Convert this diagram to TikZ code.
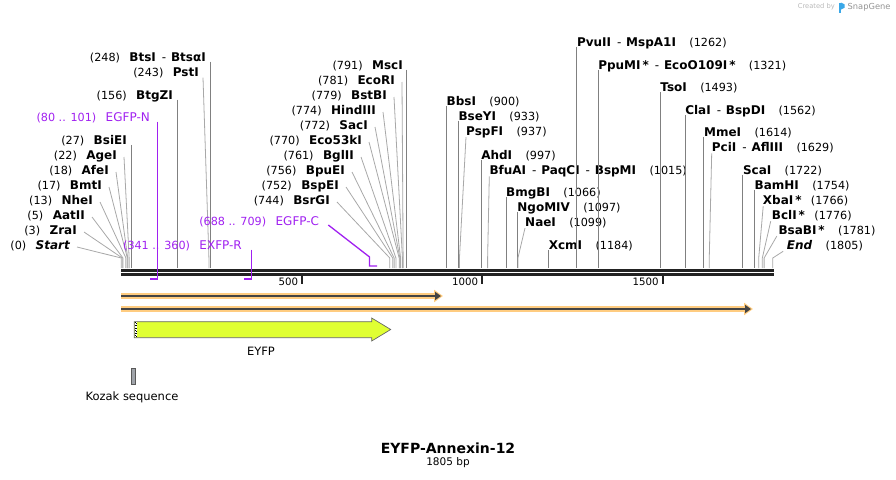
\documentclass[tikz,border=0pt]{standalone}
\usepackage{fontspec}
\setmainfont{DejaVu Sans}
\usepackage{xcolor}
\usetikzlibrary{arrows.meta}
\usetikzlibrary{positioning}
\definecolor{cutgray}{HTML}{808080}
\definecolor{cutlight}{HTML}{A8A8A8}
\definecolor{primer}{HTML}{A020F0}
\definecolor{rulergray}{HTML}{222222}
\definecolor{orfhalo}{HTML}{FFCC80}
\definecolor{orfdark}{HTML}{444444}
\definecolor{eyfpfill}{HTML}{E0FF33}
\definecolor{kozakfill}{HTML}{A0A4AA}
\definecolor{snapblue}{HTML}{3AA8E8}
\newcommand{\enzsep}{\hspace{0.5em}\textmd{-}\hspace{0.4em}}

\begin{document}
\begin{tikzpicture}[x=1pt,y=-1pt,node distance=9pt]
	\tikzset{
		EN/.style={inner sep=0pt,text depth=0pt,font=\fontsize{12}{14}\selectfont\bfseries},
		NU/.style={inner sep=0pt,font=\fontsize{11.2}{13}\selectfont},
		CV/.style={draw=cutgray,line width=0.8pt},
		CD/.style={draw=cutlight,line width=0.8pt},
		PL/.style={draw=primer,line width=1.3pt},
		PT/.style={inner sep=0pt,text depth=0pt,text=primer,font=\fontsize{12}{14}\selectfont},
		PN/.style={inner sep=0pt,text=primer,font=\fontsize{11.2}{13}\selectfont},
		RL/.style={draw=rulergray,line width=2.4pt},
		TK/.style={draw=rulergray,line width=2pt},
		TL/.style={inner sep=0pt,anchor=east,font=\fontsize{10.2}{12}\selectfont},
		OH/.style={draw=orfhalo,line width=6pt,-{Triangle[length=9pt,width=12pt]}},
		OD/.style={draw=orfdark,line width=2pt,-{Triangle[length=6pt,width=8pt]}},
		FT/.style={inner sep=0pt,font=\fontsize{11.5}{13}\selectfont},
	}
	
	\useasboundingbox (0,0) rectangle (896,479);
	
	% ruler
	\coordinate (r-s) at (121,270.5);
	\coordinate (r-e) at (774,270.5);
	\draw[RL] (r-s) -- (r-e);
	\draw[RL] ([yshift=-4pt]r-s) -- ([yshift=-4pt]r-e);
	\draw[TK] (301.7,276) -- (301.7,283.5); \node[TL] (t500) at (298.2,282) {500};
	\draw[TK] (482.2,276) -- (482.2,283.5); \node[TL] (t1000) at (478.2,282) {1000};
	\draw[TK] (662.7,276) -- (662.7,283.5); \node[TL] (t1500) at (658.7,282) {1500};
	
	% sites, left of the line
	\node[EN,anchor=east] (start) at (70,245) {\itshape Start}; \node[NU,base left=of start] (start-n) {(0)};
	\node[EN,anchor=east] (zrai) at (77,230) {ZraI}; \node[NU,base left=of zrai] (zrai-n) {(3)};
	\node[EN,anchor=east] (aatii) at (85,215) {AatII}; \node[NU,base left=of aatii] (aatii-n) {(5)};
	\node[EN,anchor=east] (nhei) at (93,200) {NheI}; \node[NU,base left=of nhei] (nhei-n) {(13)};
	\node[EN,anchor=east] (bmti) at (102,185) {BmtI}; \node[NU,base left=of bmti] (bmti-n) {(17)};
	\node[EN,anchor=east] (afei) at (109,170) {AfeI}; \node[NU,base left=of afei] (afei-n) {(18)};
	\node[EN,anchor=east] (agei) at (117,155) {AgeI}; \node[NU,base left=of agei] (agei-n) {(22)};
	\node[EN,anchor=east] (bsiei) at (127,140) {BsiEI}; \node[NU,base left=of bsiei] (bsiei-n) {(27)};
	\node[EN,anchor=east] (btgzi) at (173,95) {BtgZI}; \node[NU,base left=of btgzi] (btgzi-n) {(156)};
	\node[EN,anchor=east] (psti) at (199,72) {PstI}; \node[NU,base left=of psti] (psti-n) {(243)};
	\node[EN,anchor=east] (btsi) at (206,57) {BtsI\enzsep BtsαI}; \node[NU,base left=of btsi] (btsi-n) {(248)};
	
	\node[EN,anchor=east] (bsrgi) at (330,200) {BsrGI}; \node[NU,base left=of bsrgi] (bsrgi-n) {(744)};
	\node[EN,anchor=east] (bspei) at (339,185) {BspEI}; \node[NU,base left=of bspei] (bspei-n) {(752)};
	\node[EN,anchor=east] (bpuei) at (345,170) {BpuEI}; \node[NU,base left=of bpuei] (bpuei-n) {(756)};
	\node[EN,anchor=east] (bglii) at (354,155) {BglII}; \node[NU,base left=of bglii] (bglii-n) {(761)};
	\node[EN,anchor=east] (eco53ki) at (362,140) {Eco53kI}; \node[NU,base left=of eco53ki] (eco53ki-n) {(770)};
	\node[EN,anchor=east] (saci) at (368,125) {SacI}; \node[NU,base left=of saci] (saci-n) {(772)};
	\node[EN,anchor=east] (hindiii) at (376,110) {HindIII}; \node[NU,base left=of hindiii] (hindiii-n) {(774)};
	\node[EN,anchor=east] (bstbi) at (387,95) {BstBI}; \node[NU,base left=of bstbi] (bstbi-n) {(779)};
	\node[EN,anchor=east] (ecori) at (395,80) {EcoRI}; \node[NU,base left=of ecori] (ecori-n) {(781)};
	\node[EN,anchor=east] (msci) at (403,65) {MscI}; \node[NU,base left=of msci] (msci-n) {(791)};
	
	\coordinate (start-c) at ({121.2+0.361*0},268);
	\coordinate (zrai-c) at ({121.2+0.361*3},268);
	\coordinate (aatii-c) at ({121.2+0.361*5},268);
	\coordinate (nhei-c) at ({121.2+0.361*13},268);
	\coordinate (bmti-c) at ({121.2+0.361*17},268);
	\coordinate (afei-c) at ({121.2+0.361*18},268);
	\coordinate (agei-c) at ({121.2+0.361*22},268);
	\coordinate (bsiei-c) at ({121.2+0.361*27},268);
	\coordinate (btgzi-c) at ({121.2+0.361*156},268);
	\coordinate (psti-c) at ({121.2+0.361*243},268);
	\coordinate (btsi-c) at ({121.2+0.361*248},268);
	\coordinate (bsrgi-c) at ({121.2+0.361*744},268);
	\coordinate (bspei-c) at ({121.2+0.361*752},268);
	\coordinate (bpuei-c) at ({121.2+0.361*756},268);
	\coordinate (bglii-c) at ({121.2+0.361*761},268);
	\coordinate (eco53ki-c) at ({121.2+0.361*770},268);
	\coordinate (saci-c) at ({121.2+0.361*772},268);
	\coordinate (hindiii-c) at ({121.2+0.361*774},268);
	\coordinate (bstbi-c) at ({121.2+0.361*779},268);
	\coordinate (ecori-c) at ({121.2+0.361*781},268);
	\coordinate (msci-c) at ({121.2+0.361*791},268);
	
	\draw[CD] ([xshift=7pt,yshift=-2pt]start.east) -- ([yshift=10pt]start-c) -- (start-c);
	\draw[CD] ([xshift=7pt,yshift=-2pt]zrai.east) -- ([yshift=10pt]zrai-c) -- (zrai-c);
	\draw[CD] ([xshift=7pt,yshift=-2pt]aatii.east) -- ([yshift=10pt]aatii-c) -- (aatii-c);
	\draw[CD] ([xshift=7pt,yshift=-2pt]nhei.east) -- ([yshift=10pt]nhei-c) -- (nhei-c);
	\draw[CD] ([xshift=7pt,yshift=-2pt]bmti.east) -- ([yshift=10pt]bmti-c) -- (bmti-c);
	\draw[CD] ([xshift=7pt,yshift=-2pt]afei.east) -- ([yshift=10pt]afei-c) -- (afei-c);
	\draw[CD] ([xshift=7pt,yshift=-2pt]agei.east) -- ([yshift=10pt]agei-c) -- (agei-c);
	\draw[CV] (bsiei.south -| bsiei-c) -- (bsiei-c);
	\draw[CV] (btgzi.south -| btgzi-c) -- (btgzi-c);
	\draw[CD] ([xshift=4pt,yshift=-1pt]psti.south east) -- ([yshift=10pt]psti-c) -- (psti-c);
	\draw[CV] (btsi.south -| btsi-c) -- (btsi-c);
	\draw[CD] ([xshift=7pt,yshift=-2pt]bsrgi.east) -- ([yshift=10pt]bsrgi-c) -- (bsrgi-c);
	\draw[CD] ([xshift=7pt,yshift=-2pt]bspei.east) -- ([yshift=10pt]bspei-c) -- (bspei-c);
	\draw[CD] ([xshift=7pt,yshift=-2pt]bpuei.east) -- ([yshift=10pt]bpuei-c) -- (bpuei-c);
	\draw[CD] ([xshift=7pt,yshift=-2pt]bglii.east) -- ([yshift=10pt]bglii-c) -- (bglii-c);
	\draw[CD] ([xshift=7pt,yshift=-2pt]eco53ki.east) -- ([yshift=10pt]eco53ki-c) -- (eco53ki-c);
	\draw[CD] ([xshift=7pt,yshift=-2pt]saci.east) -- ([yshift=10pt]saci-c) -- (saci-c);
	\draw[CD] ([xshift=7pt,yshift=-2pt]hindiii.east) -- ([yshift=10pt]hindiii-c) -- (hindiii-c);
	\draw[CD] ([xshift=7pt,yshift=-2pt]bstbi.east) -- ([yshift=10pt]bstbi-c) -- (bstbi-c);
	\draw[CD] ([xshift=7pt,yshift=-2pt]ecori.east) -- ([yshift=10pt]ecori-c) -- (ecori-c);
	\draw[CV] (msci.south -| msci-c) -- (msci-c);
	
	% sites, right of the line
	\node[EN,anchor=west] (bbsi) at (446.5,101) {BbsI}; \node[NU,base right=13pt of bbsi] (bbsi-n) {(900)};
	\node[EN,anchor=west] (bseyi) at (458.3,116) {BseYI}; \node[NU,base right=13pt of bseyi] (bseyi-n) {(933)};
	\node[EN,anchor=west] (pspfi) at (466,131) {PspFI}; \node[NU,base right=13pt of pspfi] (pspfi-n) {(937)};
	\node[EN,anchor=west] (ahdi) at (481.1,155) {AhdI}; \node[NU,base right=13pt of ahdi] (ahdi-n) {(997)};
	\node[EN,anchor=west] (bfuai) at (489.3,170) {BfuAI\enzsep PaqCI\enzsep BspMI}; \node[NU,base right=13pt of bfuai] (bfuai-n) {(1015)};
	\node[EN,anchor=west] (bmgbi) at (506.0,192) {BmgBI}; \node[NU,base right=13pt of bmgbi] (bmgbi-n) {(1066)};
	\node[EN,anchor=west] (ngomiv) at (517.2,207) {NgoMIV}; \node[NU,base right=13pt of ngomiv] (ngomiv-n) {(1097)};
	\node[EN,anchor=west] (naei) at (525,222) {NaeI}; \node[NU,base right=13pt of naei] (naei-n) {(1099)};
	\node[EN,anchor=west] (xcmi) at (548.6,245) {XcmI}; \node[NU,base right=13pt of xcmi] (xcmi-n) {(1184)};
	\node[EN,anchor=west] (pvuii) at (576.8,42) {PvuII\enzsep MspA1I}; \node[NU,base right=13pt of pvuii] (pvuii-n) {(1262)};
	\node[EN,anchor=west] (ppumi) at (598.1,65) {PpuMI\,*\enzsep EcoO109I\,*}; \node[NU,base right=13pt of ppumi] (ppumi-n) {(1321)};
	\node[EN,anchor=west] (tsoi) at (660.2,87) {TsoI}; \node[NU,base right=13pt of tsoi] (tsoi-n) {(1493)};
	\node[EN,anchor=west] (clai) at (685.1,110) {ClaI\enzsep BspDI}; \node[NU,base right=13pt of clai] (clai-n) {(1562)};
	\node[EN,anchor=west] (mmei) at (703.9,132) {MmeI}; \node[NU,base right=13pt of mmei] (mmei-n) {(1614)};
	\node[EN,anchor=west] (pcii) at (711.7,147) {PciI\enzsep AflIII}; \node[NU,base right=13pt of pcii] (pcii-n) {(1629)};
	\node[EN,anchor=west] (scai) at (742.8,170) {ScaI}; \node[NU,base right=13pt of scai] (scai-n) {(1722)};
	\node[EN,anchor=west] (bamhi) at (754.4,185) {BamHI}; \node[NU,base right=13pt of bamhi] (bamhi-n) {(1754)};
	\node[EN,anchor=west] (xbai) at (762.7,200) {XbaI\,*}; \node[NU,base right=9pt of xbai] (xbai-n) {(1766)};
	\node[EN,anchor=west] (bcli) at (771.7,215) {BclI\,*}; \node[NU,base right=9pt of bcli] (bcli-n) {(1776)};
	\node[EN,anchor=west] (bsabi) at (778.3,230) {BsaBI\,*}; \node[NU,base right=13pt of bsabi] (bsabi-n) {(1781)};
	\node[EN,anchor=west] (endp) at (786.7,245) {\itshape End}; \node[NU,base right=13pt of endp] (endp-n) {(1805)};
	
	\coordinate (bbsi-c) at ({121.2+0.361*900},268);
	\coordinate (bseyi-c) at ({121.2+0.361*933},268);
	\coordinate (pspfi-c) at ({121.2+0.361*937},268);
	\coordinate (ahdi-c) at ({121.2+0.361*997},268);
	\coordinate (bfuai-c) at ({121.2+0.361*1015},268);
	\coordinate (bmgbi-c) at ({121.2+0.361*1066},268);
	\coordinate (ngomiv-c) at ({121.2+0.361*1097},268);
	\coordinate (naei-c) at ({121.2+0.361*1099},268);
	\coordinate (xcmi-c) at ({121.2+0.361*1184},268);
	\coordinate (pvuii-c) at ({121.2+0.361*1262},268);
	\coordinate (ppumi-c) at ({121.2+0.361*1321},268);
	\coordinate (tsoi-c) at ({121.2+0.361*1493},268);
	\coordinate (clai-c) at ({121.2+0.361*1562},268);
	\coordinate (mmei-c) at ({121.2+0.361*1614},268);
	\coordinate (pcii-c) at ({121.2+0.361*1629},268);
	\coordinate (scai-c) at ({121.2+0.361*1722},268);
	\coordinate (bamhi-c) at ({121.2+0.361*1754},268);
	\coordinate (xbai-c) at ({121.2+0.361*1766},268);
	\coordinate (bcli-c) at ({121.2+0.361*1776},268);
	\coordinate (bsabi-c) at ({121.2+0.361*1781},268);
	\coordinate (endp-c) at ({121.2+0.361*1805},268);
	
	\draw[CV] (bbsi.south -| bbsi-c) -- (bbsi-c);
	\draw[CV] (bseyi.south -| bseyi-c) -- (bseyi-c);
	\draw[CD] ([yshift=-1.5pt]pspfi.south west) -- ([yshift=10pt]pspfi-c) -- (pspfi-c);
	\draw[CV] (ahdi.south -| ahdi-c) -- (ahdi-c);
	\draw[CD] ([yshift=-1.5pt]bfuai.south west) -- ([yshift=10pt]bfuai-c) -- (bfuai-c);
	\draw[CV] (bmgbi.south -| bmgbi-c) -- (bmgbi-c);
	\draw[CV] (ngomiv.south -| ngomiv-c) -- (ngomiv-c);
	\draw[CD] ([yshift=-1.5pt]naei.south west) -- ([yshift=10pt]naei-c) -- (naei-c);
	\draw[CV] (xcmi.south -| xcmi-c) -- (xcmi-c);
	\draw[CV] (pvuii.south -| pvuii-c) -- (pvuii-c);
	\draw[CV] (ppumi.south -| ppumi-c) -- (ppumi-c);
	\draw[CV] (tsoi.south -| tsoi-c) -- (tsoi-c);
	\draw[CV] (clai.south -| clai-c) -- (clai-c);
	\draw[CV] (mmei.south -| mmei-c) -- (mmei-c);
	\draw[CD] ([yshift=-1.5pt]pcii.south west) -- ([yshift=10pt]pcii-c) -- (pcii-c);
	\draw[CV] (scai.south -| scai-c) -- (scai-c);
	\draw[CV] (bamhi.south -| bamhi-c) -- (bamhi-c);
	\draw[CD] ([xshift=0.5pt,yshift=-1.5pt]xbai.south west) -- ([yshift=10pt]xbai-c) -- (xbai-c);
	\draw[CD] ([xshift=-1pt,yshift=-1.5pt]bcli.south west) -- ([yshift=10pt]bcli-c) -- (bcli-c);
	\draw[CD] ([xshift=-1.5pt,yshift=-1.5pt]bsabi.south west) -- ([yshift=10pt]bsabi-c) -- (bsabi-c);
	\draw[CD] ([xshift=-3.5pt,yshift=-1.5pt]endp.south west) -- ([yshift=10pt]endp-c) -- (endp-c);
	
	% primers
	\node[PT,anchor=east] (egfpn) at (150,117) {EGFP-N}; \node[PN,base left=of egfpn] (egfpn-n) {(80 .. 101)};
	\node[PT,anchor=east] (exfpr) at (242,245) {EXFP-R}; \node[PN,base left=of exfpr] (exfpr-n) {(341 .. 360)};
	\node[PT,anchor=east] (egfpc) at (319.3,221) {EGFP-C}; \node[PN,base left=of egfpc] (egfpc-n) {(688 .. 709)};
	\coordinate (egfpn-c) at ({121.2+0.361*101},279);
	\coordinate (egfpn-b) at ({121.2+0.361*80},279);
	\coordinate (exfpr-c) at ({121.2+0.361*360},279);
	\coordinate (exfpr-b) at ({121.2+0.361*341},279);
	\coordinate (egfpc-c) at ({121.2+0.361*688},266);
	\coordinate (egfpc-b) at ({121.2+0.361*709},266);
	\draw[PL] (egfpn.south -| egfpn-c) -- (egfpn-c) -- (egfpn-b);
	\draw[PL] (exfpr.south -| exfpr-c) -- (exfpr-c) -- (exfpr-b);
	\draw[PL] ([xshift=9pt,yshift=-4pt]egfpc.east) -- ([yshift=9pt]egfpc-c) -- (egfpc-c) -- (egfpc-b);
	
	% orfs
	\coordinate (orf1-s) at (121,296);
	\coordinate (orf1-e) at (443,296);
	\coordinate (orf2-s) at (121,309);
	\coordinate (orf2-e) at (753,309);
	\draw[OH] (orf1-s) -- (orf1-e);
	\draw[OD] (orf1-s) -- ([xshift=-2pt]orf1-e);
	\draw[OH] (orf2-s) -- (orf2-e);
	\draw[OD] (orf2-s) -- ([xshift=-2pt]orf2-e);
	
	% features
	\draw[draw=gray!80!black,line width=0.7pt,fill=eyfpfill]
	(134.3,321.7) -- (371.7,321.7) -- (371.7,318) -- (390.7,329.5) -- (371.7,341) -- (371.7,337.7) -- (134.3,337.7) -- cycle;
	\fill[white] (134.6,322.1) rectangle (137.3,337.3);
	\draw[black,line width=0.6pt,dotted] (135.2,322.3) -- (135.2,337.3);
	\draw[black,line width=0.6pt,dotted] (136.6,322.8) -- (136.6,337.3);
	\node[FT] (eyfp) at (261,351) {EYFP};
	\draw[draw=gray!70!black,line width=0.7pt,fill=kozakfill] (131,368.3) rectangle (135.7,384.3);
	\node[FT] (kozak) at (132,397) {Kozak sequence};
	
	% title
	\node[inner sep=0pt,font=\fontsize{14}{16}\selectfont\bfseries] (title) at (448,448) {EYFP-Annexin-12};
	\node[inner sep=0pt,font=\fontsize{10.5}{12}\selectfont] (len) at (448,463) {1805 bp};
	
	% logo
	\node[inner sep=0pt,anchor=east,text=gray!55,font=\fontsize{6.7}{8}\selectfont] (created) at (835,7) {Created by};
	\fill[snapblue] (838.5,2.5) rectangle (840.8,12.5);
	\fill[snapblue] (840.8,2.5) -- (844.5,4.3) -- (844.5,7.8) -- (840.8,9.6) -- cycle;
	\node[inner sep=0pt,anchor=west,text=gray!85,font=\fontsize{8.3}{10}\selectfont] (snapgene) at (847.5,7) {SnapGene};
\end{tikzpicture}
\end{document}
